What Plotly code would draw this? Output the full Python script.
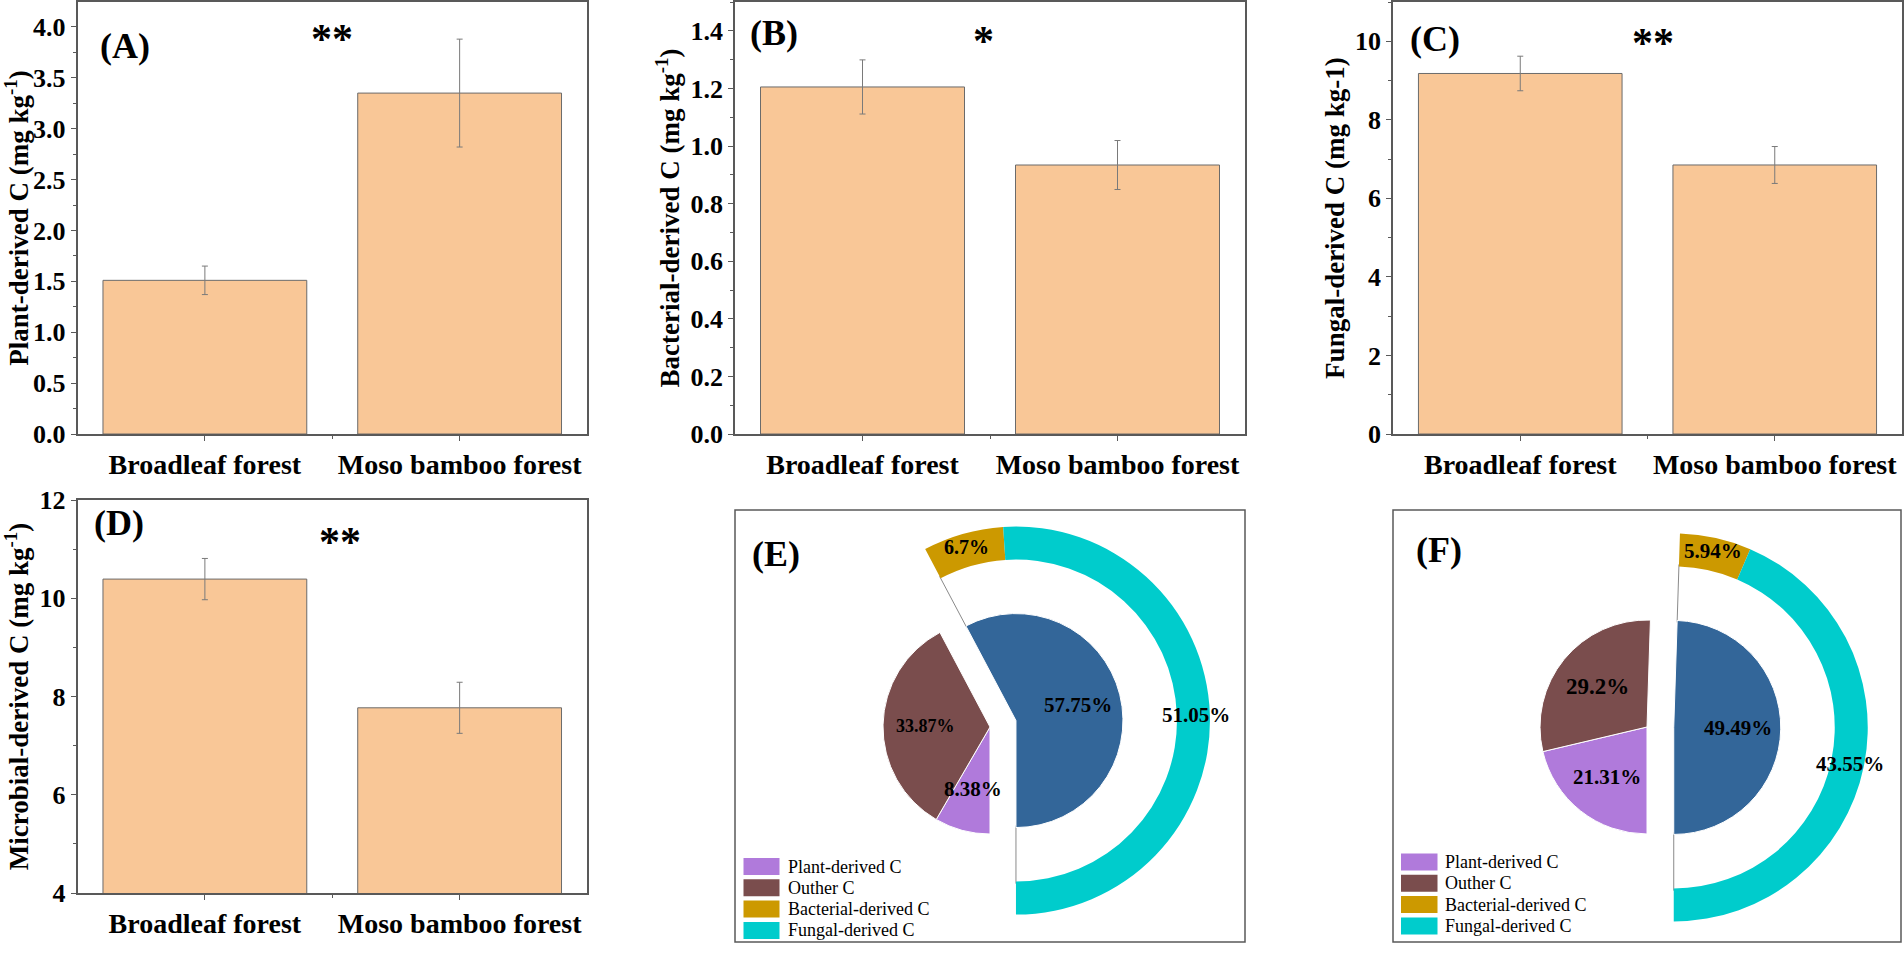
import math
import plotly.graph_objects as go

W, H = 1904, 975

# ---------------- data ----------------
categories = ["Broadleaf forest", "Moso bamboo forest"]

plant_c = [1.51, 3.35]
plant_err = [0.14, 0.53]
bact_c = [1.205, 0.934]
bact_err = [0.094, 0.085]
fung_c = [9.18, 6.85]
fung_err = [0.44, 0.47]
micro_c = [10.39, 7.77]
micro_err = [0.42, 0.52]

sig_marks = ["**", "*", "**", "**"]
panel_tags = ["(A)", "(B)", "(C)", "(D)", "(E)", "(F)"]

inner_labels = ["Plant-derived C", "Outher C", "Microbial-derived C"]
ring_labels = ["Bacterial-derived C", "Fungal-derived C"]
legend_labels = ["Plant-derived C", "Outher C", "Bacterial-derived C", "Fungal-derived C"]

broadleaf_inner = [8.38, 33.87, 57.75]
broadleaf_ring = [6.7, 51.05]
moso_inner = [21.31, 29.2, 49.49]
moso_ring = [5.94, 43.55]

# ---------------- style ----------------
SERIF = "Liberation Serif"
AX = "#595959"
BAR = "#F9C797"
inner_colors = ["#B07ADB", "#7A4D4D", "#336699"]
ring_colors = ["#CC9900", "#00CCCC"]
legend_colors = ["#B07ADB", "#7A4D4D", "#CC9900", "#00CCCC"]

fig = go.Figure()


def pxx(x):
    return x / W


def pxy(y):
    return 1 - y / H


# ---------------- bar panels ----------------
bar_specs = [
    dict(vals=plant_c, errs=plant_err, xd=(77.5, 587), yd=(2, 434), rng=[0, 4.245], dt=0.5, mdt=0.25, t0=0,
         fmt=".1f", title="Plant-derived C (mg kg<sup>-1</sup>)"),
    dict(vals=bact_c, errs=bact_err, xd=(735, 1245), yd=(2, 434), rng=[0, 1.5], dt=0.2, mdt=0.1, t0=0,
         fmt=".1f", title="Bacterial-derived C (mg kg<sup>-1</sup>)"),
    dict(vals=fung_c, errs=fung_err, xd=(1393, 1902), yd=(2, 434), rng=[0, 11], dt=2, mdt=1, t0=0,
         fmt="d", title="Fungal-derived C (mg kg-1)"),
    dict(vals=micro_c, errs=micro_err, xd=(77.5, 587), yd=(500, 893), rng=[4, 12], dt=2, mdt=1, t0=4,
         fmt="d", title="Microbial-derived C (mg kg<sup>-1</sup>)"),
]

xpos = list(range(len(categories)))

for i, s in enumerate(bar_specs, start=1):
    xa = "x" if i == 1 else f"x{i}"
    ya = "y" if i == 1 else f"y{i}"
    fig.add_trace(go.Bar(
        x=xpos, y=s["vals"], width=0.8, xaxis=xa, yaxis=ya, showlegend=False,
        marker=dict(color=BAR, line=dict(color="#6b6b6b", width=1)),
        error_y=dict(type="data", array=s["errs"], visible=True, color="#7a7a7a", thickness=1, width=3),
    ))
    common = dict(showline=True, linecolor=AX, linewidth=1.5, mirror=True, showgrid=False, zeroline=False,
                  ticks="outside", tickcolor=AX, tickwidth=1.2, automargin=False)
    fig.layout[f"xaxis{'' if i == 1 else i}"] = dict(
        domain=[pxx(s["xd"][0]), pxx(s["xd"][1])], anchor=ya, range=[-0.5, 1.5],
        tickmode="array", tickvals=xpos, ticktext=categories, ticklen=5,
        tickfont=dict(family=SERIF, size=28, color="black", weight="bold"),
        minor=dict(tickmode="array", tickvals=[0.5], ticks="outside", ticklen=3, tickcolor=AX, tickwidth=1.2),
        **common)
    fig.layout[f"yaxis{'' if i == 1 else i}"] = dict(
        domain=[pxy(s["yd"][1]), pxy(s["yd"][0])], anchor=xa, range=s["rng"],
        tick0=s["t0"], dtick=s["dt"], tickformat=s["fmt"], ticklen=5,
        tickfont=dict(family=SERIF, size=26, color="black", weight="bold"),
        minor=dict(tick0=s["t0"], dtick=s["mdt"], ticks="outside", ticklen=3, tickcolor=AX, tickwidth=1.2),
        title=dict(text=s["title"], standoff=3, font=dict(family=SERIF, size=27, color="black", weight="bold")),
        **common)

# ---------------- pie panels ----------------
R_IN = 107.0
PULL = 0.25
R_RING = 194.0
HOLE = 161.0 / 194.0

annotations = []
shapes = []
pie_font = dict(family=SERIF, size=12, color="black")


def add_pie_panel(cx, cy, inner_vals, ring_vals, inner_sizes, ring_sizes):
    total = sum(inner_vals)
    start = 180.0
    mids = []
    for v in inner_vals:
        span = 360.0 * v / total
        mids.append(start + span / 2)
        start += span
    th = math.radians(mids[-1])
    pcx = cx + PULL * R_IN * math.sin(th)
    pcy = cy - PULL * R_IN * math.cos(th)
    gap = total - sum(ring_vals)

    # white wedge between the pulled slice and the ring (thin grey radial edges)
    r_gap = R_RING * HOLE + 2
    fig.add_trace(go.Pie(
        values=[gap, sum(ring_vals)], labels=["rest", "link"], sort=False, direction="clockwise",
        rotation=180, hole=(R_IN - 2) / r_gap, textinfo="none", textposition="none", textfont=pie_font,
        showlegend=False, hoverinfo="skip",
        marker=dict(colors=["rgba(0,0,0,0)", "white"], line=dict(color=["rgba(0,0,0,0)", "#8a8a8a"], width=[0, 1])),
        domain=dict(x=[pxx(pcx - r_gap), pxx(pcx + r_gap)], y=[pxy(pcy + r_gap), pxy(pcy - r_gap)]),
    ))

    half = R_IN * (1 + PULL)
    pulls = [0] * (len(inner_vals) - 1) + [PULL]
    fig.add_trace(go.Pie(
        values=inner_vals, labels=inner_labels, sort=False, direction="clockwise", rotation=180,
        pull=pulls, textinfo="none", textposition="none", textfont=pie_font, showlegend=False,
        marker=dict(colors=inner_colors, line=dict(color="white", width=1)),
        domain=dict(x=[pxx(cx - half), pxx(cx + half)], y=[pxy(cy + half), pxy(cy - half)]),
    ))

    fig.add_trace(go.Pie(
        values=[gap] + list(ring_vals), labels=["rest"] + ring_labels, sort=False, direction="clockwise",
        rotation=180, hole=HOLE, textinfo="none", textposition="none", textfont=pie_font, showlegend=False,
        marker=dict(colors=["rgba(0,0,0,0)"] + ring_colors, line=dict(width=0)),
        domain=dict(x=[pxx(pcx - R_RING), pxx(pcx + R_RING)], y=[pxy(pcy + R_RING), pxy(pcy - R_RING)]),
    ))

    # labels, inner
    for k, v in enumerate(inner_vals):
        ccx, ccy = (pcx, pcy) if k == len(inner_vals) - 1 else (cx, cy)
        a = math.radians(mids[k])
        annotations.append(dict(
            x=pxx(ccx + 0.6 * R_IN * math.sin(a)), y=pxy(ccy - 0.6 * R_IN * math.cos(a)),
            xref="paper", yref="paper", text=f"{v}%", showarrow=False, xanchor="center", yanchor="middle",
            font=dict(family=SERIF, size=inner_sizes[k], color="black", weight="bold")))
    # labels, ring
    start = 180.0 + 360.0 * gap / total
    for k, v in enumerate(ring_vals):
        span = 360.0 * v / total
        a = math.radians(start + span / 2)
        start += span
        annotations.append(dict(
            x=pxx(pcx + 0.93 * R_RING * math.sin(a)), y=pxy(pcy - 0.93 * R_RING * math.cos(a)),
            xref="paper", yref="paper", text=f"{v}%", showarrow=False, xanchor="center", yanchor="middle",
            font=dict(family=SERIF, size=ring_sizes[k], color="black", weight="bold")))


add_pie_panel(990, 727, broadleaf_inner, broadleaf_ring, [21, 18, 21], [20, 21])
add_pie_panel(1647, 727, moso_inner, moso_ring, [21, 23, 21], [21, 21])

# legends for the pie panels (swatch + text)
legend_specs = [(743.5, 779.5, 786, 866.5), (1401, 1437.5, 1443, 862)]
for (sx0, sx1, tx, y0) in legend_specs:
    for k, (name, col) in enumerate(zip(legend_labels, legend_colors)):
        yc = y0 + 21.3 * k
        shapes.append(dict(type="rect", xref="paper", yref="paper", x0=pxx(sx0), x1=pxx(sx1),
                           y0=pxy(yc + 8.5), y1=pxy(yc - 8.5), line=dict(width=0), fillcolor=col))
        annotations.append(dict(x=pxx(tx), y=pxy(yc), xref="paper", yref="paper", text=name,
                                showarrow=False, xanchor="left", yanchor="middle",
                                font=dict(family=SERIF, size=18, color="black")))

# frames for pie panels
for (x0, x1) in [(735, 1245), (1393, 1901)]:
    shapes.append(dict(type="rect", xref="paper", yref="paper", x0=pxx(x0), x1=pxx(x1),
                       y0=pxy(942), y1=pxy(510), line=dict(color=AX, width=1.5), fillcolor="rgba(0,0,0,0)"))

# panel tags
tag_pos = [(125, 49), (774, 36), (1435, 42), (119, 526), (776, 557), (1439, 553)]
for t, (x, y) in zip(panel_tags, tag_pos):
    annotations.append(dict(x=pxx(x), y=pxy(y - 3), xref="paper", yref="paper", text=t, showarrow=False,
                            xanchor="center", yanchor="middle",
                            font=dict(family=SERIF, size=36, color="black", weight="bold")))

# significance marks
sig_pos = [(332, 38), (983, 40), (1653, 42), (340, 541)]
for t, (x, y) in zip(sig_marks, sig_pos):
    annotations.append(dict(x=pxx(x), y=pxy(y + 1), xref="paper", yref="paper", text=t, showarrow=False,
                            xanchor="center", yanchor="middle",
                            font=dict(family=SERIF, size=42, color="black", weight="bold")))

fig.update_layout(
    template="none",
    width=W, height=H, autosize=False,
    margin=dict(l=0, r=0, t=0, b=0, pad=0),
    paper_bgcolor="white", plot_bgcolor="white",
    bargap=0.2, showlegend=False,
    shapes=shapes, annotations=annotations,
    font=dict(family=SERIF, color="black"),
)

fig.write_html("out.html", config={"displayModeBar": False},
               post_script="document.body.style.margin='0px';")
